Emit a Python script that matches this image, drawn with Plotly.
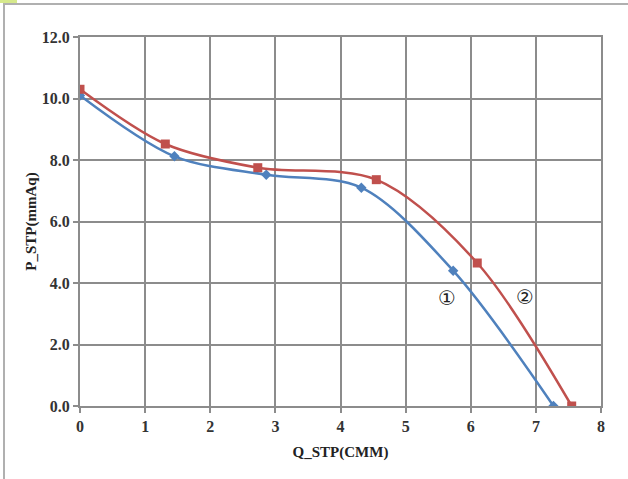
import plotly.graph_objects as go

# Series 1 (blue, diamonds)
q1 = [0.0, 1.45, 2.86, 4.32, 5.73, 7.27]
p1 = [10.1, 8.12, 7.52, 7.1, 4.4, 0.0]
# Series 2 (red, squares)
q2 = [0.0, 1.31, 2.73, 4.55, 6.1, 7.55]
p2 = [10.3, 8.52, 7.75, 7.36, 4.65, 0.0]

x_ticks = [0, 1, 2, 3, 4, 5, 6, 7, 8]
y_ticks = [0, 2, 4, 6, 8, 10, 12]

labels = ["①", "②"]
label_x = [5.63, 6.83]
label_y = [3.5, 3.55]

W, H = 628, 479
L, R, T, B = 80, 27, 37, 73
pw, ph = W - L - R, H - T - B

def px(xp):
    return (xp - L) / pw

def py(yp):
    return (H - B - yp) / ph

fig = go.Figure()
fig.add_trace(go.Scatter(x=q1, y=p1, mode="lines+markers", line=dict(color="#4F81BD", width=2.5, shape="spline", smoothing=0.9),
                         marker=dict(symbol="diamond", size=8, color="#4F81BD"), showlegend=False))
fig.add_trace(go.Scatter(x=q2, y=p2, mode="lines+markers", line=dict(color="#C0504D", width=2.5, shape="spline", smoothing=0.9),
                         marker=dict(symbol="square", size=9, color="#C0504D"), showlegend=False))

for t, xx, yy in zip(labels, label_x, label_y):
    fig.add_annotation(x=xx, y=yy, text=t, showarrow=False,
                       font=dict(family="DejaVu Sans, Noto Sans CJK JP", size=20, color="#222"))

font = dict(family="Liberation Serif, Times New Roman, serif", size=16, color="#222")
tickfont = dict(family="Liberation Serif", size=16, color="#333", weight="bold")
fig.update_layout(
    width=W, height=H, margin=dict(l=L, r=R, t=T, b=B),
    paper_bgcolor="white", plot_bgcolor="white",
    font=font,
    xaxis=dict(range=[0, 8], tickvals=x_ticks, showgrid=True, gridcolor="#8c8c8c", gridwidth=2,
               showline=True, linecolor="#8c8c8c", linewidth=2, mirror=True, zeroline=False,
               ticks="outside", ticklen=5, tickcolor="#8c8c8c", tickwidth=2, tickfont=tickfont,
               title=dict(text="<b>Q_STP(CMM)</b>", standoff=12, font=dict(family="Liberation Serif", size=15))),
    yaxis=dict(range=[0, 12], tickvals=y_ticks, tickformat=".1f", showgrid=True, gridcolor="#8c8c8c", gridwidth=2,
               showline=True, linecolor="#8c8c8c", linewidth=2, mirror=True, zeroline=False,
               ticks="outside", ticklen=5, tickcolor="#8c8c8c", tickwidth=2, tickfont=tickfont,
               title=dict(text="<b>P_STP(mmAq)</b>", standoff=2, font=dict(family="Liberation Serif", size=15))),
)

# frame lines of the image
fig.add_shape(type="line", xref="paper", yref="paper", x0=px(3), x1=px(628), y0=py(4), y1=py(4),
              line=dict(color="#b0b0b0", width=2))
fig.add_shape(type="line", xref="paper", yref="paper", x0=px(4), x1=px(4), y0=py(4), y1=py(479),
              line=dict(color="#b0b0b0", width=2))
fig.add_shape(type="rect", xref="paper", yref="paper", x0=px(0), x1=px(17), y0=py(3), y1=py(0),
              line=dict(width=0), fillcolor="#d6e98c")

fig.write_html("out.html", config={"displayModeBar": False},
               post_script="document.body.style.margin='0';")
